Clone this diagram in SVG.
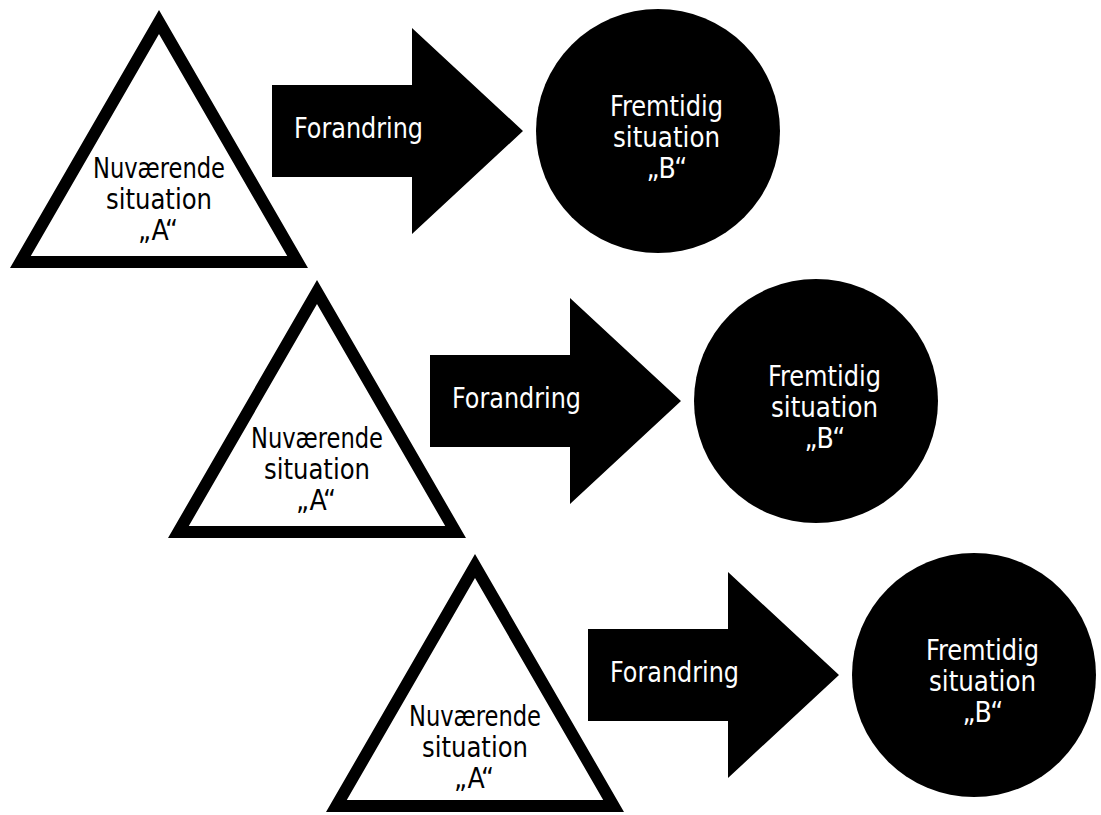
<svg xmlns="http://www.w3.org/2000/svg" width="1101" height="815" viewBox="0 0 1101 815">
  <style>
    .tri { fill: #ffffff; stroke: #000000; stroke-width: 12; stroke-linejoin: miter; stroke-miterlimit: 10; }
    .blob { fill: #000000; }
    .arrow { fill: #000000; }
    .lbl { font-family: "Liberation Sans Narrow", "DejaVu Sans Condensed", "Liberation Sans", sans-serif; font-size: 28px; text-anchor: middle; }
    .dark { fill: #000000; }
    .light { fill: #ffffff; }
  </style>
  <rect width="1101" height="815" fill="#ffffff"/>

  <!-- current state A (triangles) -->
  <g id="nuvaerende-1">
    <polygon class="tri" points="20.4,262 159,22 297.6,262"/>
    <text class="lbl dark"><tspan x="159" y="178" textLength="132" lengthAdjust="spacingAndGlyphs">Nuværende</tspan><tspan x="159" y="209" textLength="106" lengthAdjust="spacingAndGlyphs">situation</tspan><tspan x="158" y="240">„A“</tspan></text>
  </g>
  <g id="nuvaerende-2" transform="translate(158,270)">
    <polygon class="tri" points="20.4,262 159,22 297.6,262"/>
    <text class="lbl dark"><tspan x="159" y="178" textLength="132" lengthAdjust="spacingAndGlyphs">Nuværende</tspan><tspan x="159" y="209" textLength="106" lengthAdjust="spacingAndGlyphs">situation</tspan><tspan x="158" y="240">„A“</tspan></text>
  </g>
  <g id="nuvaerende-3" transform="translate(316,544)">
    <polygon class="tri" points="20.4,262 159,22 297.6,262"/>
    <text class="lbl dark"><tspan x="159" y="182" textLength="132" lengthAdjust="spacingAndGlyphs">Nuværende</tspan><tspan x="159" y="213" textLength="106" lengthAdjust="spacingAndGlyphs">situation</tspan><tspan x="158" y="244">„A“</tspan></text>
  </g>

  <!-- future state B (circles) -->
  <g id="fremtidig-1">
    <circle class="blob" cx="658" cy="131" r="122"/>
    <text class="lbl light"><tspan x="666.5" y="116" textLength="113" lengthAdjust="spacingAndGlyphs">Fremtidig</tspan><tspan x="666.5" y="147" textLength="107" lengthAdjust="spacingAndGlyphs">situation</tspan><tspan x="667" y="178">„B“</tspan></text>
  </g>
  <g id="fremtidig-2" transform="translate(158,270)">
    <circle class="blob" cx="658" cy="131" r="122"/>
    <text class="lbl light"><tspan x="666.5" y="116" textLength="113" lengthAdjust="spacingAndGlyphs">Fremtidig</tspan><tspan x="666.5" y="147" textLength="107" lengthAdjust="spacingAndGlyphs">situation</tspan><tspan x="667" y="178">„B“</tspan></text>
  </g>
  <g id="fremtidig-3" transform="translate(316,544)">
    <circle class="blob" cx="658" cy="131" r="122"/>
    <text class="lbl light"><tspan x="666.5" y="116" textLength="113" lengthAdjust="spacingAndGlyphs">Fremtidig</tspan><tspan x="666.5" y="147" textLength="107" lengthAdjust="spacingAndGlyphs">situation</tspan><tspan x="667" y="178">„B“</tspan></text>
  </g>

  <!-- change arrows A -> B -->
  <g id="connectors">
    <g id="forandring-1">
      <polygon class="arrow" points="272,85 412,85 412,28 523,131 412,234 412,177 272,177"/>
      <text class="lbl light" x="358.5" y="138" textLength="129" lengthAdjust="spacingAndGlyphs">Forandring</text>
    </g>
    <g id="forandring-2" transform="translate(158,270)">
      <polygon class="arrow" points="272,85 412,85 412,28 523,131 412,234 412,177 272,177"/>
      <text class="lbl light" x="358.5" y="138" textLength="129" lengthAdjust="spacingAndGlyphs">Forandring</text>
    </g>
    <g id="forandring-3" transform="translate(316,544)">
      <polygon class="arrow" points="272,85 412,85 412,28 523,131 412,234 412,177 272,177"/>
      <text class="lbl light" x="358.5" y="138" textLength="129" lengthAdjust="spacingAndGlyphs">Forandring</text>
    </g>
  </g>
</svg>
